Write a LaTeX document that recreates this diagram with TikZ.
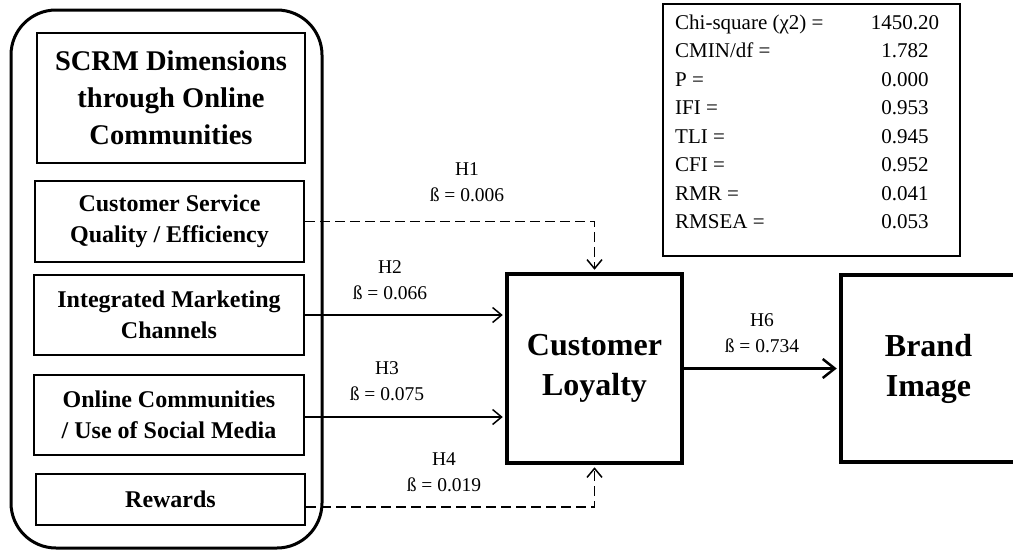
\documentclass[tikz,border=0pt]{standalone}
\usepackage{fontspec}
\setmainfont{Liberation Serif}
\usetikzlibrary{arrows.meta}
\begin{document}
\begin{tikzpicture}[x=1pt,y=-1pt,
  dimbox/.style={draw,line width=2pt,inner sep=0pt,align=center,
    font=\bfseries\fontsize{24}{31}\selectfont},
  titlebox/.style={dimbox,font=\bfseries\fontsize{28.5}{37}\selectfont},
  groupbox/.style={draw,line width=3pt,rounded corners=45pt,inner sep=0pt},
  construct/.style={draw,line width=4.5pt,inner sep=0pt,align=center,
    font=\bfseries\fontsize{32}{40}\selectfont},
  fitbox/.style={draw,line width=1.5pt,inner sep=0pt},
  fitlabel/.style={anchor=base west,inner sep=0pt,font=\fontsize{21}{24}\selectfont},
  fitvalue/.style={anchor=base,inner sep=0pt,font=\fontsize{21}{24}\selectfont},
  pathlabel/.style={align=center,inner sep=0pt,font=\fontsize{19.5}{26}\selectfont},
  solidpath/.style={line width=1.5pt,-{Straight Barb[length=9pt,width=15pt]},shorten >=2pt},
  weakpath/.style={solidpath,dash pattern=on 10pt off 5pt},
  mainpath/.style={line width=2.5pt,-{Straight Barb[length=12pt,width=19pt]},shorten >=2pt}
]
\useasboundingbox (0,0) rectangle (1013,552);
\clip (0,0) rectangle (1013,552);

% SCRM dimensions group
\node[groupbox,minimum width=311pt,minimum height=538pt] (grp) at (166.5,279) {};
\node[titlebox,minimum width=268pt,minimum height=130pt] (scrm) at (171,98)
  {SCRM Dimensions\\through Online\\Communities};
\node[dimbox,minimum width=269pt,minimum height=81pt] (cs) at (169.5,221.5)
  {Customer Service\\Quality / Efficiency};
\node[dimbox,minimum width=270pt,minimum height=80pt] (im) at (169,315)
  {Integrated Marketing\\Channels};
\node[dimbox,minimum width=270pt,minimum height=80pt] (oc) at (169,415)
  {Online Communities\\/ Use of Social Media};
\node[dimbox,minimum width=269pt,minimum height=51pt] (rw) at (170.5,499.5)
  {Rewards};

% outcome constructs
\node[construct,minimum width=175pt,minimum height=189pt] (cl) at (594.5,368.5)
  {Customer\\Loyalty};
\node[construct,minimum width=175pt,minimum height=187pt] (bi) at (928.5,368.5)
  {Brand\\Image};

% model fit indices
\node[fitbox,minimum width=297pt,minimum height=252pt] (fit) at (811.5,130) {};
\foreach \i/\lab/\val in {1/{Chi-square (χ2) =}/1450.20, 2/{CMIN/df =}/1.782,
    3/{P =}/0.000, 4/{IFI =}/0.953, 5/{TLI =}/0.945, 6/{CFI =}/0.952,
    7/{RMR =}/0.041, 8/{RMSEA =}/0.053}{
  \node[fitlabel] (fl\i) at (675,{29+28.57*(\i-1)}) {\lab};
  \node[fitvalue] (fv\i) at (905,{29+28.57*(\i-1)}) {\val};
}

% structural paths
\draw[weakpath] (cs.east) -| (cl.north);
\draw[solidpath] (im.east) -- (im.east -| cl.west);
\draw[solidpath] ([yshift=-2pt]oc.east) -- ([yshift=-2pt]oc.east -| cl.west);
\draw[weakpath] ([yshift=-7.5pt]rw.east) -| (cl.south);
\draw[mainpath] (cl.east) -- (bi.west);

% path coefficients
\node[pathlabel] (h1) at (467,182) {H1\\ß = 0.006};
\node[pathlabel] (h2) at (390,280) {H2\\ß = 0.066};
\node[pathlabel] (h3) at (387,381.5) {H3\\ß = 0.075};
\node[pathlabel] (h4) at (444,472.5) {H4\\ß = 0.019};
\node[pathlabel] (h6) at (762,333.5) {H6\\ß = 0.734};
\end{tikzpicture}
\end{document}
